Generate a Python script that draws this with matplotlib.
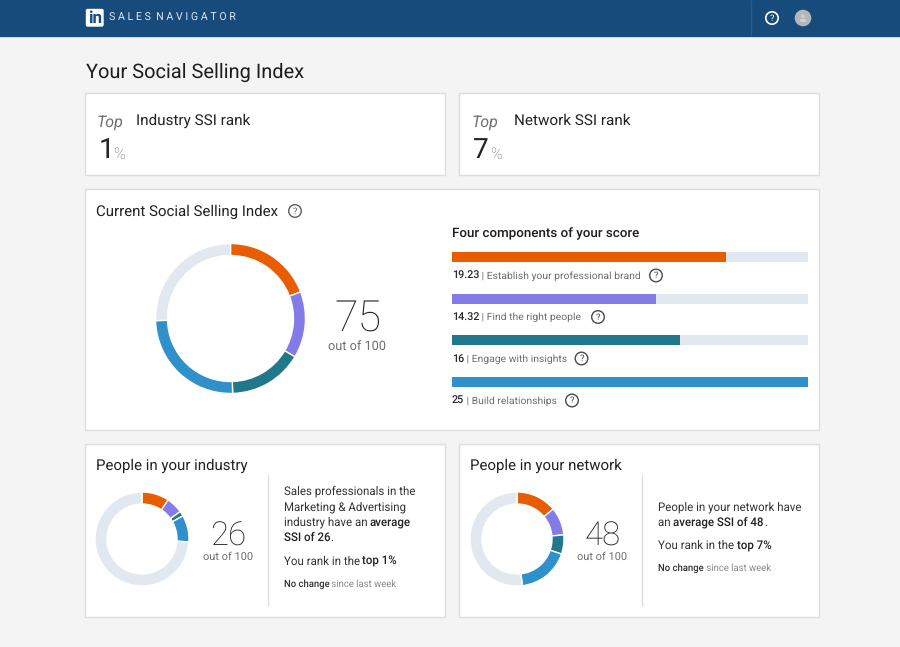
import matplotlib
matplotlib.use("Agg")
import matplotlib.pyplot as plt
from matplotlib.patches import Rectangle, FancyBboxPatch, Circle

# ---- data ----
component_names = ["Establish your professional brand", "Find the right people",
                   "Engage with insights", "Build relationships"]
component_labels = ["19.23", "14.32", "16", "25"]
component_scores = [19.23, 14.32, 16, 25]
component_max = 25
component_colors = ["#E85D00", "#857BE8", "#20788A", "#2F90CB"]
track_color = "#E1E8EF"

ssi_values = [19.23, 14.32, 16, 25, 25.45]
industry_values = [9.4, 5.7, 1.7, 9.2, 74.0]
network_values = [14.0, 9.6, 6.6, 18.0, 51.8]

ssi_total = "75"
industry_total = "26"
network_total = "48"

W, H = 900, 647
FAM = ['Roboto', 'DejaVu Sans']
plt.rcParams['font.family'] = FAM
plt.rcParams['text.hinting'] = 'none'
plt.rcParams['text.hinting_factor'] = 8
fig = plt.figure(figsize=(9, 6.47), dpi=100, facecolor="#F4F4F4")
bg = fig.add_axes([0, 0, 1, 1])
bg.set_xlim(0, W); bg.set_ylim(H, 0); bg.axis("off")

INK = "#222222"
GREY = "#6E6E6E"
LIGHT = "#8A8A8A"


def px(s):
    return s * 0.72


def txt(x, y, s, size, color=INK, weight="normal", style="normal", ha="left", **kw):
    return bg.text(x, y, s, fontsize=px(size), color=color, fontweight=weight, fontstyle=style,
                   ha=ha, va="center", family=FAM, **kw)


def runs(x, y, parts, size):
    """Draw text runs side by side; parts = (string, weight, color[, size])."""
    r = fig.canvas.get_renderer()
    for part in parts:
        s, w, c = part[:3]
        t = txt(x, y, s, part[3] if len(part) > 3 else size, color=c, weight=w)
        x = bg.transData.inverted().transform(t.get_window_extent(r))[1][0]


def card(x0, y0, x1, y1):
    bg.add_patch(Rectangle((x0, y0), x1 - x0, y1 - y0, fc="white", ec="#DEDEDE", lw=1.0))


def help_icon(x, y, color="#5E5E5E", r=6.3):
    bg.add_patch(Circle((x, y), r, fc="none", ec=color, lw=1.0))
    txt(x, y + 0.2, "?", 9.5, color=color, ha="center")


def donut(values, colors, cx, cy, r_out, r_in, gap=1.0):
    size = 2 * r_out + 4
    ax = fig.add_axes([(cx - size / 2) / W, 1 - (cy + size / 2) / H, size / W, size / H])
    ax.pie(values, colors=colors, startangle=90, counterclock=False, radius=r_out,
           wedgeprops=dict(width=r_out - r_in, edgecolor="white", linewidth=gap))
    ax.set_xlim(-size / 2, size / 2); ax.set_ylim(-size / 2, size / 2)
    ax.set_aspect("equal")
    ax.patch.set_alpha(0)


# ---- header ----
bg.add_patch(Rectangle((0, 0), W, 36.5, fc="#174B7C", ec="none"))
bg.add_patch(Rectangle((0, 36.5), W, 1.2, fc="#DADADA", ec="none"))
bg.plot([751, 751], [0, 36], color="#2A5C8A", lw=1, solid_capstyle="butt")
bg.add_patch(FancyBboxPatch((86.5, 9.5), 16.5, 16.5, boxstyle="round,pad=0,rounding_size=1.2",
                            fc="white", ec="white", lw=1))
txt(94.8, 18.6, "in", 17, color="#174B7C", weight="bold", ha="center")
txt(109, 17.5, "S A L E S  N A V I G A T O R", 10.6, color="#DCE6EF")
bg.add_patch(Circle((772, 18), 6.2, fc="none", ec="white", lw=1.2))
txt(772, 18.3, "?", 9.5, color="white", ha="center")
bg.add_patch(Circle((803, 18), 8.3, fc="#B4B7BA", ec="none"))
bg.add_patch(Circle((803, 16.3), 1.8, fc="#CFD2D4", ec="none"))
bg.add_patch(Rectangle((799.7, 19.4), 6.6, 2.2, fc="#CFD2D4", ec="none"))

# ---- page title ----
txt(86, 72, "Your Social Selling Index", 20, color="#1D1D1D")

# ---- rank cards ----
card(85, 93, 444.5, 174.5)
card(459, 93, 819, 174.5)
txt(97, 122.5, "Top", 16, color=GREY, style="italic")
txt(136.5, 120.5, "Industry SSI rank", 15.2)
txt(98.5, 150, "1", 28, color="#222222", weight="normal")
txt(113, 154, "%", 16, color=GREY, weight="light")
txt(472, 122.5, "Top", 16, color=GREY, style="italic")
txt(473, 150, "7", 28, color="#222222", weight="normal")
txt(513.5, 120.5, "Network SSI rank", 15.2)
txt(490, 154, "%", 16, color=GREY, weight="light")

# ---- current SSI card ----
card(85, 189, 819, 429.5)
txt(96, 211.5, "Current Social Selling Index", 15)
help_icon(295, 211)
donut(ssi_values, component_colors + [track_color], 230.5, 318.5, 75, 63)
txt(357.5, 319.5, ssi_total, 43, color="#222222", weight="light", ha="center")
txt(357.5, 347, "out of 100", 12.8, color=GREY, ha="center")

txt(452, 234, "Four components of your score", 13.4, color="#1D1D1D", weight="medium")

bar_ax = fig.add_axes([452 / W, 1 - 387.5 / H, 356 / W, (387.5 - 251.5) / H])
rows = list(range(len(component_scores)))
bar_ax.barh(rows, [component_max] * 4, height=10 / 41.7, color=track_color)
bar_ax.barh(rows, component_scores, height=10 / 41.7, color=component_colors)
bar_ax.set_xlim(0, component_max)
bar_ax.set_ylim(3 + 5.5 / 41.7, -5.5 / 41.7)
bar_ax.axis("off")

label_y = [275.5, 317, 358.5, 400.5]
icon_x = [656, 598, 581.5, 572]
for lab, name, y, ix in zip(component_labels, component_names, label_y, icon_x):
    runs(452, y + 0.5, [(lab, "medium", "#2A2A2A", 10.8), (" | " + name, "normal", GREY, 10.4)], 10.4)
    help_icon(ix, y, color="#4A4A4A")

# ---- bottom cards ----
card(85, 444, 444.5, 616.5)
card(459, 444, 819, 616.5)
txt(96, 466, "People in your industry", 15)
txt(470.5, 466, "People in your network", 15)

donut(industry_values, component_colors + [track_color], 142, 539, 47, 35)
donut(network_values, component_colors + [track_color], 517, 539, 47, 35)

txt(228.5, 537, industry_total, 33, color="#222222", weight="light", ha="center")
txt(228, 556.5, "out of 100", 11, color=GREY, ha="center")
txt(602.5, 537, network_total, 33, color="#222222", weight="light", ha="center")
txt(602.5, 556.5, "out of 100", 11, color=GREY, ha="center")

bg.plot([267.5, 267.5], [475, 605], color="#DDDDDD", lw=1)
bg.plot([641.5, 641.5], [475, 605], color="#DDDDDD", lw=1)

TXT = "#333333"
SZ = 11.55
txt(283.5, 491.5, "Sales professionals in the", SZ, color=TXT)
txt(283.5, 507, "Marketing & Advertising", SZ, color=TXT)
runs(283.5, 522.5, [("industry have an ", "normal", TXT), ("average", "medium", "#222222")], SZ)
runs(283.5, 538, [("SSI of 26", "medium", "#222222"), (".", "normal", TXT)], SZ)
runs(283.5, 561.5, [("You rank in the ", "normal", TXT), ("top 1%", "medium", "#222222")], SZ)
runs(283.5, 584, [("No change", "medium", "#333333"), (" since last week", "normal", LIGHT)], 9.55)

txt(658, 507, "People in your network have", SZ, color=TXT)
runs(658, 522.5, [("an ", "normal", TXT), ("average SSI of 48", "medium", "#222222"), (".", "normal", TXT)], SZ)
runs(658, 546, [("You rank in the ", "normal", TXT), ("top 7%", "medium", "#222222")], SZ)
runs(658, 568, [("No change", "medium", "#333333"), (" since last week", "normal", LIGHT)], 9.55)

fig.savefig("out.png", dpi=100, facecolor=fig.get_facecolor())
